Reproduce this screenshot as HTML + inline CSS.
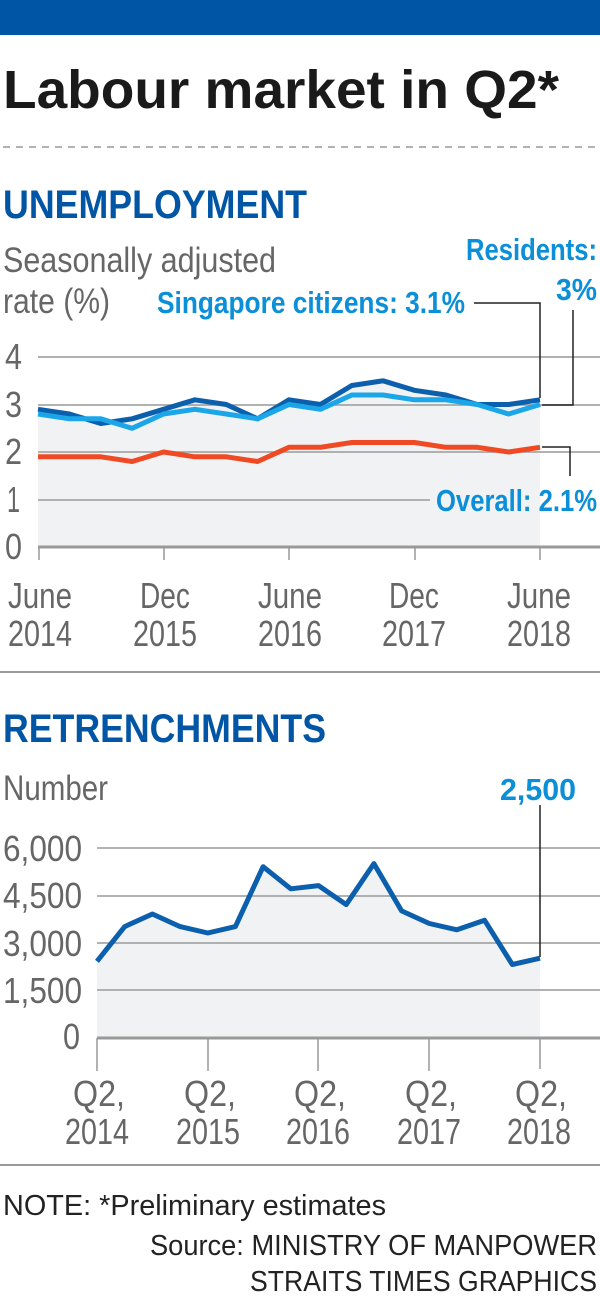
<!DOCTYPE html>
<html><head><meta charset="utf-8"><style>
html,body{margin:0;padding:0;background:#fff;}
svg{display:block;font-family:"Liberation Sans Narrow","Liberation Sans",sans-serif;}
</style></head><body>
<svg width="600" height="1299" viewBox="0 0 600 1299" xmlns="http://www.w3.org/2000/svg">
<rect x="0" y="0" width="600" height="35" fill="#0055a5"/>
<text x="3" y="108" font-size="54" font-weight="bold" fill="#1a1a1a" textLength="556" lengthAdjust="spacingAndGlyphs">Labour market in Q2*</text>
<line x1="3" y1="147" x2="600" y2="147" stroke="#999" stroke-width="1.5" stroke-dasharray="7,6"/>
<text x="3" y="218" font-size="40" font-weight="bold" fill="#0055a5" textLength="304" lengthAdjust="spacingAndGlyphs">UNEMPLOYMENT</text>
<text x="3" y="272" font-size="35" fill="#666" textLength="273" lengthAdjust="spacingAndGlyphs">Seasonally adjusted</text>
<text x="3" y="313" font-size="35" fill="#666" textLength="107" lengthAdjust="spacingAndGlyphs">rate (%)</text>
<text x="157" y="313" font-size="31" font-weight="bold" fill="#0a8fd8" textLength="308" lengthAdjust="spacingAndGlyphs">Singapore citizens: 3.1%</text>
<text x="466" y="260" font-size="31" font-weight="bold" fill="#0a8fd8" textLength="131" lengthAdjust="spacingAndGlyphs">Residents:</text>
<text x="556" y="300" font-size="31" font-weight="bold" fill="#0a8fd8" textLength="41" lengthAdjust="spacingAndGlyphs">3%</text>
<path d="M38,409.3 L69.4,414 L100.8,423.5 L132.1,418.8 L163.5,409.3 L194.9,399.8 L226.3,404.5 L257.6,418.8 L289,399.8 L320.4,404.5 L351.8,385.5 L383.1,380.8 L414.5,390.3 L445.9,395 L477.3,404.5 L508.6,404.5 L540,399.8 L540,547 L38,547 Z" fill="#f1f2f4"/>
<g stroke="#999" stroke-width="1.5">
<line x1="38" y1="357" x2="600" y2="357"/>
<line x1="38" y1="405" x2="600" y2="405"/>
<line x1="38" y1="452" x2="600" y2="452"/>
<line x1="38" y1="500" x2="430" y2="500"/>
</g>
<line x1="38" y1="547" x2="600" y2="547" stroke="#999" stroke-width="3"/>
<g stroke="#999" stroke-width="1.5">
<line x1="39" y1="547" x2="39" y2="560"/><line x1="164" y1="547" x2="164" y2="560"/><line x1="289" y1="547" x2="289" y2="560"/><line x1="415" y1="547" x2="415" y2="560"/><line x1="540" y1="547" x2="540" y2="560"/>
</g>
<g font-size="36" fill="#666">
<text x="5" y="369" textLength="17" lengthAdjust="spacingAndGlyphs">4</text><text x="5" y="417" textLength="17" lengthAdjust="spacingAndGlyphs">3</text><text x="5" y="464" textLength="17" lengthAdjust="spacingAndGlyphs">2</text><text x="7" y="512" textLength="13" lengthAdjust="spacingAndGlyphs">1</text><text x="5" y="559" textLength="17" lengthAdjust="spacingAndGlyphs">0</text>
</g>
<g fill="none" stroke-width="5" stroke-linejoin="round">
<polyline stroke="#f04a24" points="38,456.8 69.4,456.8 100.8,456.8 132.1,461.5 163.5,452 194.9,456.8 226.3,456.8 257.6,461.5 289,447.3 320.4,447.3 351.8,442.5 383.1,442.5 414.5,442.5 445.9,447.3 477.3,447.3 508.6,452 540,447.3"/>
<polyline stroke="#0b5fad" points="38,409.3 69.4,414 100.8,423.5 132.1,418.8 163.5,409.3 194.9,399.8 226.3,404.5 257.6,418.8 289,399.8 320.4,404.5 351.8,385.5 383.1,380.8 414.5,390.3 445.9,395 477.3,404.5 508.6,404.5 540,399.8"/>
<polyline stroke="#1aa6e8" points="38,414 69.4,418.8 100.8,418.8 132.1,428.3 163.5,414 194.9,409.3 226.3,414 257.6,418.8 289,404.5 320.4,409.3 351.8,395 383.1,395 414.5,399.8 445.9,399.8 477.3,404.5 508.6,414 540,404.5"/>
</g>
<g fill="none" stroke="#222" stroke-width="1.5">
<polyline points="474,303 540,303 540,398"/>
<polyline points="573,310 573,405 542,405"/>
<polyline points="542,447 570,447 570,476"/>
</g>
<text x="436" y="511" font-size="31" font-weight="bold" fill="#0a8fd8" textLength="161" lengthAdjust="spacingAndGlyphs">Overall: 2.1%</text>
<g font-size="36" fill="#666" text-anchor="middle">
<text x="40" y="608" textLength="64" lengthAdjust="spacingAndGlyphs">June</text><text x="40" y="646" textLength="64" lengthAdjust="spacingAndGlyphs">2014</text>
<text x="165" y="608" textLength="50" lengthAdjust="spacingAndGlyphs">Dec</text><text x="165" y="646" textLength="64" lengthAdjust="spacingAndGlyphs">2015</text>
<text x="290" y="608" textLength="64" lengthAdjust="spacingAndGlyphs">June</text><text x="290" y="646" textLength="64" lengthAdjust="spacingAndGlyphs">2016</text>
<text x="414" y="608" textLength="50" lengthAdjust="spacingAndGlyphs">Dec</text><text x="414" y="646" textLength="64" lengthAdjust="spacingAndGlyphs">2017</text>
<text x="539" y="608" textLength="64" lengthAdjust="spacingAndGlyphs">June</text><text x="539" y="646" textLength="64" lengthAdjust="spacingAndGlyphs">2018</text>
</g>
<line x1="0" y1="672" x2="600" y2="672" stroke="#999" stroke-width="2"/>
<text x="3" y="742" font-size="40" font-weight="bold" fill="#0055a5" textLength="323" lengthAdjust="spacingAndGlyphs">RETRENCHMENTS</text>
<text x="3" y="800" font-size="35" fill="#666" textLength="105" lengthAdjust="spacingAndGlyphs">Number</text>
<text x="500" y="800" font-size="31" font-weight="bold" fill="#0a8fd8" textLength="76" lengthAdjust="spacingAndGlyphs">2,500</text>
<path d="M97,961.3 L124.7,926.6 L152.4,914 L180.1,926.6 L207.8,933 L235.4,926.6 L263.1,866.7 L290.8,888.8 L318.5,885.6 L346.2,904.6 L373.9,863.6 L401.6,910.9 L429.3,923.5 L456.9,929.8 L484.6,920.3 L512.3,964.5 L540,958.2 L540,1037 L97,1037 Z" fill="#f1f2f4"/>
<g stroke="#999" stroke-width="1.5">
<line x1="97" y1="848" x2="600" y2="848"/><line x1="97" y1="896" x2="600" y2="896"/><line x1="97" y1="943" x2="600" y2="943"/><line x1="97" y1="990" x2="600" y2="990"/>
</g>
<line x1="97" y1="1038" x2="600" y2="1038" stroke="#999" stroke-width="3"/>
<g stroke="#999" stroke-width="1.5">
<line x1="97" y1="1038" x2="97" y2="1071"/><line x1="208" y1="1038" x2="208" y2="1071"/><line x1="318" y1="1038" x2="318" y2="1071"/><line x1="429" y1="1038" x2="429" y2="1071"/><line x1="540" y1="1038" x2="540" y2="1069"/>
</g>
<g font-size="36" fill="#666">
<text x="3" y="861" textLength="79" lengthAdjust="spacingAndGlyphs">6,000</text>
<text x="3" y="908" textLength="79" lengthAdjust="spacingAndGlyphs">4,500</text>
<text x="3" y="956" textLength="79" lengthAdjust="spacingAndGlyphs">3,000</text>
<text x="3" y="1003" textLength="79" lengthAdjust="spacingAndGlyphs">1,500</text>
<text x="63" y="1049" textLength="17" lengthAdjust="spacingAndGlyphs">0</text>
</g>
<line x1="540" y1="805" x2="540" y2="957" stroke="#222" stroke-width="1.5"/>
<polyline fill="none" stroke="#0b5fad" stroke-width="5" stroke-linejoin="round" points="97,961.3 124.7,926.6 152.4,914 180.1,926.6 207.8,933 235.4,926.6 263.1,866.7 290.8,888.8 318.5,885.6 346.2,904.6 373.9,863.6 401.6,910.9 429.3,923.5 456.9,929.8 484.6,920.3 512.3,964.5 540,958.2"/>
<g font-size="36" fill="#666" text-anchor="middle">
<text x="99" y="1106" textLength="52" lengthAdjust="spacingAndGlyphs">Q2,</text><text x="97" y="1144" textLength="64" lengthAdjust="spacingAndGlyphs">2014</text>
<text x="210" y="1106" textLength="52" lengthAdjust="spacingAndGlyphs">Q2,</text><text x="208" y="1144" textLength="64" lengthAdjust="spacingAndGlyphs">2015</text>
<text x="320" y="1106" textLength="52" lengthAdjust="spacingAndGlyphs">Q2,</text><text x="318" y="1144" textLength="64" lengthAdjust="spacingAndGlyphs">2016</text>
<text x="431" y="1106" textLength="52" lengthAdjust="spacingAndGlyphs">Q2,</text><text x="429" y="1144" textLength="64" lengthAdjust="spacingAndGlyphs">2017</text>
<text x="541" y="1106" textLength="52" lengthAdjust="spacingAndGlyphs">Q2,</text><text x="539" y="1144" textLength="64" lengthAdjust="spacingAndGlyphs">2018</text>
</g>
<line x1="0" y1="1165" x2="600" y2="1165" stroke="#999" stroke-width="2"/>
<g font-size="29" fill="#222">
<text x="3" y="1215" textLength="383" lengthAdjust="spacingAndGlyphs">NOTE: *Preliminary estimates</text>
<text x="597" y="1255" text-anchor="end" textLength="447" lengthAdjust="spacingAndGlyphs">Source: MINISTRY OF MANPOWER</text>
<text x="597" y="1291" text-anchor="end" textLength="347" lengthAdjust="spacingAndGlyphs">STRAITS TIMES GRAPHICS</text>
</g>
</svg>
</body></html>
